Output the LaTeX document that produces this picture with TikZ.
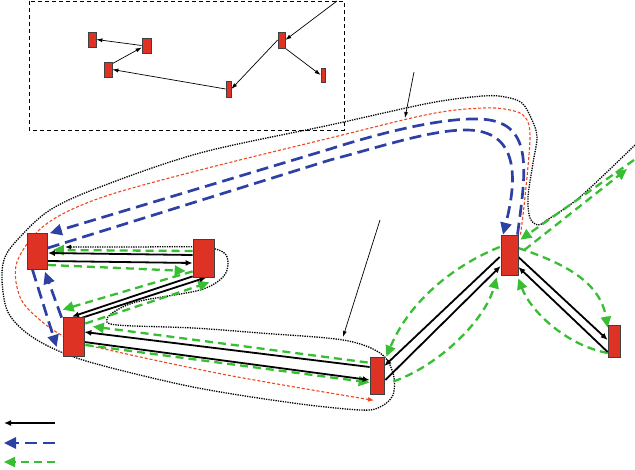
\documentclass[tikz,border=0pt]{standalone}
\usetikzlibrary{arrows.meta,calc,backgrounds}
\definecolor{nodered}{RGB}{222,50,36}
\definecolor{pathblue}{RGB}{45,65,165}
\definecolor{pathgreen}{RGB}{55,190,50}
\definecolor{pathred}{RGB}{240,70,30}
\begin{document}
\begin{tikzpicture}[x=1pt,y=-1pt,
  box/.style={draw=black!75, fill=nodered, line width=0.7pt, inner sep=0pt},
  blk/.style={line width=1.8pt, -{Latex[length=7pt,width=6pt]}},
  blu/.style={pathblue, line width=2.7pt, dash pattern=on 12pt off 6pt, -{Triangle[length=12pt,width=11pt]}},
  grn/.style={pathgreen, line width=2.3pt, dash pattern=on 8pt off 5pt, -{Triangle[length=11pt,width=10pt]}},
  reddot/.style={pathred, line width=1.1pt, dash pattern=on 3pt off 2pt, -{Latex[length=6pt,width=5pt]}},
  bdot/.style={black, line width=1.3pt, dash pattern=on 1.3pt off 1.1pt, -{Latex[length=6pt,width=5pt]}},
  thinarrow/.style={line width=0.7pt, -{Latex[length=6pt,width=4pt]}},
  insetbox/.style={line width=1pt, dash pattern=on 4pt off 3pt}]
\useasboundingbox (0,0) rectangle (635,469);

% main nodes
\node[box, minimum width=20pt, minimum height=36pt] (A) at (37.5,251.5) {};
\node[box, minimum width=21pt, minimum height=38pt] (B) at (203.5,258) {};
\node[box, minimum width=21pt, minimum height=39pt] (C) at (73.5,336.5) {};
\node[box, minimum width=14pt, minimum height=37pt] (D) at (377,375.5) {};
\node[box, minimum width=17pt, minimum height=40pt] (E) at (509.5,255) {};
\node[box, minimum width=12pt, minimum height=32pt] (F) at (614,341) {};

% inset nodes
\node[box, minimum width=8pt, minimum height=15pt] (a1) at (92,39.5) {};
\node[box, minimum width=9pt, minimum height=15pt] (a2) at (146.5,45.5) {};
\node[box, minimum width=8pt, minimum height=15pt] (a3) at (108,69.5) {};
\node[box, minimum width=5pt, minimum height=16pt] (a4) at (228.5,89) {};
\node[box, minimum width=7pt, minimum height=16pt] (a5) at (281.5,40) {};
\node[box, minimum width=4pt, minimum height=14pt] (a6) at (323,75) {};

\coordinate (topin) at (337,1);
\coordinate (p1s) at (414,72);
\coordinate (p1e) at (405,118);
\coordinate (p2s) at (380,220);
\coordinate (p2e) at (343,337);
\coordinate (gout) at (627,169);
\coordinate (gin) at (634,160);
\coordinate (l1s) at (55,423);
\coordinate (l1e) at (4,423);
\coordinate (l2s) at (55,443);
\coordinate (l2e) at (4,443);
\coordinate (l3s) at (55,462);
\coordinate (l3e) at (4,462);

\begin{scope}[on background layer]
% inset
\draw[insetbox] (29,1) rectangle (344,130);
\draw[thinarrow] (a2.west) -- (a1.east);
\draw[thinarrow] ($(a3.north east)+(0,2)$) -- ($(a2.west)+(0,2)$);
\draw[thinarrow] (a4.west) -- (a3.east);
\draw[thinarrow] (a5.west) -- (a4.east);
\draw[thinarrow] (a5.south east) -- (a6.west);
\draw[thinarrow] (topin) -- (a5.east);

% pointers
\draw[thinarrow] (p1s) -- (p1e);
\draw[thinarrow] (p2s) -- (p2e);

% black dotted outline
\draw[bdot] plot[smooth, tension=0.55] coordinates {(635,145) (580,197) (547,220) (538,225) (530,218) (528,197) (533,163) (537,137) (532,120) (522,103) (505,97) (483,96) (430,103) (330,125) (200,153) (100,187) (50,210) (20,237) (5,257) (2,280) (7,310) (23,330) (50,347) (93,363) (193,387) (293,403) (360,410) (380,407) (393,395) (393,373) (380,353) (343,340) (260,333) (193,328) (117,325) (107,319) (117,310) (140,301) (200,290) (223,277) (228,263) (223,252) (200,247) (133,247) (65,247)};

% red dotted path
\draw[reddot] plot[smooth, tension=0.55] coordinates {($(E.north)+(11,0)$) (525,197) (530,137) (525,117) (510,110) (483,108) (430,114) (330,138) (200,170) (100,198) (45,225) (17,262) (20,297) (40,320) (67,338) (100,348) (227,375) ($(D.south)+(-3,6)$)};

% blue paths
\draw[blu] ($(E.north)+(8,0)$) .. controls (526,170) and (535,120) .. (478,119) .. controls (440,118) and (380,133) .. (330,149) -- ($(A.north east)+(2,0)$);
\draw[blu] ($(A.east)+(0,-3.5)$) -- (330,160) .. controls (380,147) and (430,130) .. (466,130) .. controls (520,130) and (517,180) .. ($(E.north)+(-6.5,0)$);
\draw[blu] ($(A.south)+(-5,0)$) -- ($(C.west)+(-6,10.5)$);
\draw[blu] ($(C.north west)+(-1,1)$) -- ($(A.south)+(7.5,2)$);

% green paths
\draw[grn] ($(B.west)+(0,-7)$) -- ($(A.east)+(5,-1.5)$);
\draw[grn] ($(A.east)+(0,13.5)$) .. controls (120,268) .. ($(B.west)+(-7,13)$);
\draw[grn] ($(B.south west)+(0,-6)$) -- ($(C.north west)+(0,-7)$);
\draw[grn] ($(C.east)+(1,-13)$) -- ($(B.south east)+(-5,5)$);
\draw[grn] ($(D.west)+(-2,-13)$) -- ($(C.east)+(8.5,-10)$);
\draw[grn] ($(C.east)+(1,8.5)$) -- ($(D.west)+(0,7)$);
\draw[grn] ($(E.west)+(-1,-8)$) .. controls (455,265) and (410,300) .. ($(D.north east)+(2,0)$);
\draw[grn] ($(D.east)+(9,6)$) .. controls (440,365) and (485,320) .. ($(E.south west)+(-4,2)$);
\draw[grn] ($(E.east)+(0,-7)$) .. controls (560,262) and (600,280) .. ($(F.north west)+(0,3)$);
\draw[grn] ($(F.west)+(0,12)$) .. controls (565,345) and (530,310) .. ($(E.south east)+(0,3)$);
\draw[grn] ($(E.east)+(6,-5)$) -- (gout);
\draw[grn] (gin) -- ($(E.north east)+(2,5)$);

% black solid pairs
\draw[blk] ($(B.west)+(0,-3)$) -- ($(A.east)+(0,1.5)$);
\draw[blk] ($(A.east)+(0,9.5)$) -- ($(B.west)+(0,5)$);
\draw[blk] ($(B.south west)+(0,-1)$) -- ($(C.north)+(-1.5,0)$);
\draw[blk] ($(C.north east)+(-2,1)$) -- ($(B.south)+(3,0)$);
\draw[blk] ($(D.west)+(0,-8.5)$) -- ($(C.east)+(0,-4.5)$);
\draw[blk] ($(C.east)+(0,5.5)$) -- ($(D.west)+(0,4.5)$);
\draw[blk] ($(E.west)+(-1,2)$) -- ($(D.east)+(0,-9.5)$);
\draw[blk] ($(D.east)+(1,4.5)$) -- ($(E.west)+(0,11)$);
\draw[blk] ($(E.east)+(0,2)$) -- ($(F.west)+(0,-1)$);
\draw[blk] ($(F.west)+(0,11)$) -- ($(E.east)+(0,12)$);

% legend
\draw[blk] (l1s) -- (l1e);
\draw[blu] (l2s) -- (l2e);
\draw[grn] (l3s) -- (l3e);
\end{scope}
\end{tikzpicture}
\end{document}
